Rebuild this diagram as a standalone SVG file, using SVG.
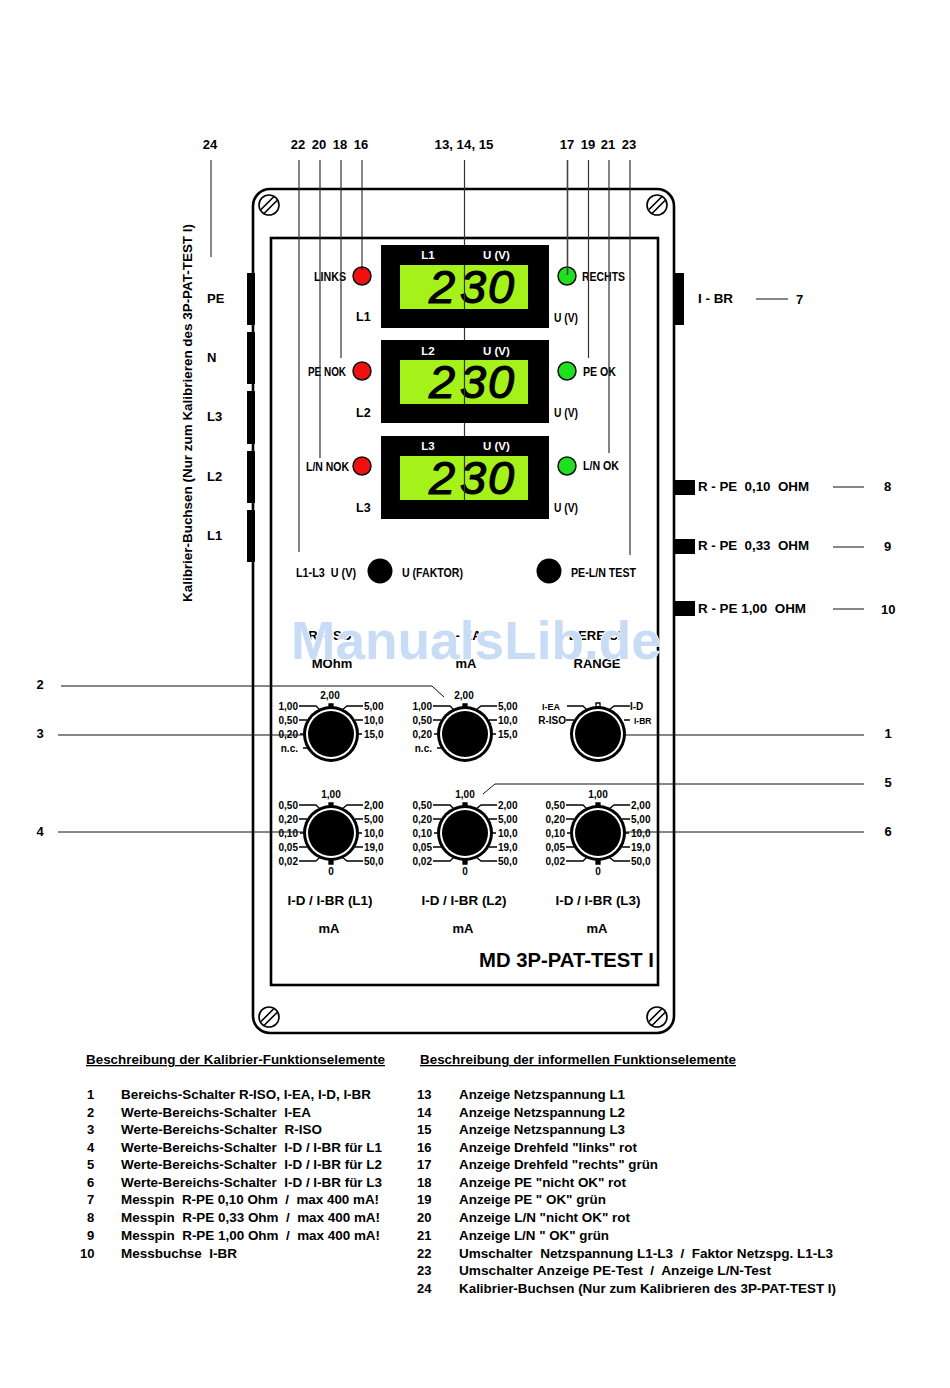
<svg xmlns="http://www.w3.org/2000/svg" width="950" height="1388" viewBox="0 0 950 1388">
<style>
text{font-family:"Liberation Sans",Arial,sans-serif;font-weight:bold;font-size:13px;fill:#000;white-space:pre}
.m{text-anchor:middle}.e{text-anchor:end}
.s{font-size:10px}.w{fill:#fff;font-size:11.5px}
.l{font-size:12.5px}
.u{text-decoration:underline}
.lcd{font-size:47px;font-style:italic;font-weight:normal;stroke:#000;stroke-width:1.2}
.wire{fill:none;stroke:#111;stroke-width:1}
.wg{fill:none;stroke:#333;stroke-width:1.2}
.tick{fill:none;stroke:#000;stroke-width:1.3}
.red{fill:#f01010;stroke:#111;stroke-width:1.5}
.grn{fill:#1fe01f;stroke:#111;stroke-width:1.5}
</style>
<defs>
<g id="screw"><circle r="10" fill="#fff" stroke="#000" stroke-width="1.6"/><path d="M-8,4.5 L4.5,-8 M-4.5,8 L8,-4.5" fill="none" stroke="#000" stroke-width="1.6"/></g>
<g id="knob"><circle r="28" fill="#000"/><circle r="25" fill="#fff"/><circle r="23" fill="#000"/></g>
<g id="upticks" class="tick"><path d="M-2,-27 h4 v4 h-4z" fill="#000" transform="translate(0,-3)"/><path d="M-32,-28 H-15 L-11,-24 M-32,-14 H-24 M-31,0 H-26 M-28,14 H-22 M32,-28 H16 L11,-24 M32,-14 H24 M31,0 H27"/></g>
<g id="lowticks" class="tick"><path d="M-2,-30 h4 v4 h-4z M-2,27 h4 v4 h-4z" fill="#000"/><path d="M-32,-28 H-15 L-11,-24 M-32,-14 H-24 M-31,0 H-26 M-32,14 H-24 M-32,28 H-15 L-11,24 M32,-28 H16 L11,-24 M32,-14 H24 M31,0 H27 M32,14 H24 M32,28 H16 L11,24"/></g>
</defs>
<rect width="950" height="1388" fill="#fff"/>

<g id="housing">
<rect x="253" y="189" width="421" height="844" rx="17" fill="none" stroke="#000" stroke-width="2.6"/>
<rect x="271" y="238" width="387" height="747" fill="none" stroke="#000" stroke-width="2.6"/>
<use href="#screw" x="269" y="205"/><use href="#screw" x="657" y="205"/><use href="#screw" x="269" y="1017"/><use href="#screw" x="657" y="1017"/>
<text x="479" y="967" style="font-size:20px" textLength="175" lengthAdjust="spacingAndGlyphs">MD 3P-PAT-TEST I</text>
</g>

<g id="jacks-left" fill="#000">
<rect x="247" y="273" width="8" height="52"/><rect x="247" y="332" width="8" height="52"/><rect x="247" y="391" width="8" height="53"/><rect x="247" y="451" width="8" height="52"/><rect x="247" y="510" width="8" height="52"/>
<text x="207" y="303">PE</text><text x="207" y="362">N</text><text x="207" y="421">L3</text><text x="207" y="481">L2</text><text x="207" y="540">L1</text>
<text transform="translate(192,602) rotate(-90)" textLength="378" lengthAdjust="spacingAndGlyphs">Kalibrier-Buchsen (Nur zum Kalibrieren des 3P-PAT-TEST I)</text>
</g>
<g id="jack-ibr"><rect x="675" y="273" width="9" height="52"/><text x="698" y="303" textLength="35" lengthAdjust="spacingAndGlyphs">I - BR</text><text x="796" y="304">7</text></g>
<g id="pin-010"><rect x="675" y="480" width="20" height="15"/><text x="698" y="491" textLength="111" lengthAdjust="spacingAndGlyphs">R - PE  0,10  OHM</text><text x="884" y="491">8</text></g>
<g id="pin-033"><rect x="675" y="539" width="20" height="15"/><text x="698" y="550" textLength="111" lengthAdjust="spacingAndGlyphs">R - PE  0,33  OHM</text><text x="884" y="551">9</text></g>
<g id="pin-100"><rect x="675" y="601" width="20" height="15"/><text x="698" y="613" textLength="108" lengthAdjust="spacingAndGlyphs">R - PE 1,00  OHM</text><text x="881" y="614">10</text></g>

<g id="display-l1"><rect x="381" y="245" width="168" height="83"/><rect x="400" y="265" width="128" height="44" fill="#a4f21a"/><text class="w m" x="428" y="259">L1</text><text class="w" x="483" y="259">U (V)</text><text class="lcd" x="429 460 488" y="303">230</text></g>
<g id="display-l2"><rect x="381" y="340" width="168" height="83"/><rect x="400" y="360" width="128" height="44" fill="#a4f21a"/><text class="w m" x="428" y="355">L2</text><text class="w" x="483" y="355">U (V)</text><text class="lcd" x="429 460 488" y="398">230</text></g>
<g id="display-l3"><rect x="381" y="436" width="168" height="83"/><rect x="400" y="456" width="128" height="44" fill="#a4f21a"/><text class="w m" x="428" y="450">L3</text><text class="w" x="483" y="450">U (V)</text><text class="lcd" x="429 460 488" y="494">230</text></g>

<g id="led-links"><circle class="red" cx="362" cy="276" r="9"/><text class="l" x="314" y="281" textLength="32" lengthAdjust="spacingAndGlyphs">LINKS</text><text class="l" x="356" y="321">L1</text></g>
<g id="led-penok"><circle class="red" cx="362" cy="371" r="9"/><text class="l" x="308" y="376" textLength="38" lengthAdjust="spacingAndGlyphs">PE NOK</text><text class="l" x="356" y="417">L2</text></g>
<g id="led-lnnok"><circle class="red" cx="362" cy="466" r="9"/><text class="l" x="306" y="471" textLength="43" lengthAdjust="spacingAndGlyphs">L/N NOK</text><text class="l" x="356" y="512">L3</text></g>
<g id="led-rechts"><circle class="grn" cx="567" cy="276" r="9"/><text class="l" x="582" y="281" textLength="43" lengthAdjust="spacingAndGlyphs">RECHTS</text><text class="l" x="554" y="322" textLength="24" lengthAdjust="spacingAndGlyphs">U (V)</text></g>
<g id="led-peok"><circle class="grn" cx="567" cy="371" r="9"/><text class="l" x="583" y="376" textLength="33" lengthAdjust="spacingAndGlyphs">PE OK</text><text class="l" x="554" y="417" textLength="24" lengthAdjust="spacingAndGlyphs">U (V)</text></g>
<g id="led-lnok"><circle class="grn" cx="567" cy="466" r="9"/><text class="l" x="583" y="470" textLength="36" lengthAdjust="spacingAndGlyphs">L/N OK</text><text class="l" x="554" y="512" textLength="24" lengthAdjust="spacingAndGlyphs">U (V)</text></g>

<g id="btn-faktor"><circle cx="380" cy="571" r="12.5"/><text class="l" x="296" y="577" textLength="60" lengthAdjust="spacingAndGlyphs">L1-L3  U (V)</text><text class="l" x="402" y="577" textLength="61" lengthAdjust="spacingAndGlyphs">U (FAKTOR)</text></g>
<g id="btn-test"><circle cx="549" cy="571" r="12.5"/><text class="l" x="571" y="577" textLength="65" lengthAdjust="spacingAndGlyphs">PE-L/N TEST</text></g>

<g id="titles">
<text class="m" x="330" y="640">R - ISO</text><text class="m" x="465" y="640">I - EA</text><text class="m" x="598" y="640">BEREICH</text>
<text class="m" x="332" y="668">MOhm</text><text class="m" x="466" y="668">mA</text><text class="m" x="597" y="668">RANGE</text>
<text class="m" x="330" y="905" textLength="85" lengthAdjust="spacingAndGlyphs">I-D / I-BR (L1)</text><text class="m" x="464" y="905" textLength="85" lengthAdjust="spacingAndGlyphs">I-D / I-BR (L2)</text><text class="m" x="598" y="905" textLength="85" lengthAdjust="spacingAndGlyphs">I-D / I-BR (L3)</text>
<text class="m" x="329" y="933">mA</text><text class="m" x="463" y="933">mA</text><text class="m" x="597" y="933">mA</text>
</g>

<g id="dial-riso" transform="translate(331,734)"><use href="#upticks"/><use href="#knob"/>
<text class="s m" x="-1" y="-35">2,00</text><text class="s e" x="-33" y="-24">1,00</text><text class="s e" x="-33" y="-10">0,50</text><text class="s e" x="-33" y="4">0,20</text><text class="s e" x="-33" y="18">n.c.</text><text class="s" x="33" y="-24">5,00</text><text class="s" x="33" y="-10">10,0</text><text class="s" x="33" y="4">15,0</text></g>
<g id="dial-iea" transform="translate(465,734)"><use href="#upticks"/><use href="#knob"/>
<text class="s m" x="-1" y="-35">2,00</text><text class="s e" x="-33" y="-24">1,00</text><text class="s e" x="-33" y="-10">0,50</text><text class="s e" x="-33" y="4">0,20</text><text class="s e" x="-33" y="18">n.c.</text><text class="s" x="33" y="-24">5,00</text><text class="s" x="33" y="-10">10,0</text><text class="s" x="33" y="4">15,0</text></g>
<g id="dial-range" transform="translate(598,734)"><path class="tick" d="M-2,-31 h4 v4 h-4z" fill="#000"/><path class="tick" d="M-31,-28 H-15 L-11,-24 M-32,-14 H-24 M32,-28 H16 L11,-24 M32,-14 H26"/><use href="#knob"/>
<text class="s e" x="-38" y="-24" style="font-size:9px">I-EA</text><text class="s e" x="-32" y="-10">R-ISO</text><text class="s" x="32" y="-24">I-D</text><text class="s" x="36" y="-10" style="font-size:8.5px">I-BR</text></g>
<g id="dial-l1" transform="translate(331,833)"><use href="#lowticks"/><use href="#knob"/>
<text class="s m" y="-35">1,00</text><text class="s m" y="42">0</text><text class="s e" x="-33" y="-24">0,50</text><text class="s e" x="-33" y="-10">0,20</text><text class="s e" x="-33" y="4">0,10</text><text class="s e" x="-33" y="18">0,05</text><text class="s e" x="-33" y="32">0,02</text><text class="s" x="33" y="-24">2,00</text><text class="s" x="33" y="-10">5,00</text><text class="s" x="33" y="4">10,0</text><text class="s" x="33" y="18">19,0</text><text class="s" x="33" y="32">50,0</text></g>
<g id="dial-l2" transform="translate(465,833)"><use href="#lowticks"/><use href="#knob"/>
<text class="s m" y="-35">1,00</text><text class="s m" y="42">0</text><text class="s e" x="-33" y="-24">0,50</text><text class="s e" x="-33" y="-10">0,20</text><text class="s e" x="-33" y="4">0,10</text><text class="s e" x="-33" y="18">0,05</text><text class="s e" x="-33" y="32">0,02</text><text class="s" x="33" y="-24">2,00</text><text class="s" x="33" y="-10">5,00</text><text class="s" x="33" y="4">10,0</text><text class="s" x="33" y="18">19,0</text><text class="s" x="33" y="32">50,0</text></g>
<g id="dial-l3" transform="translate(598,833)"><use href="#lowticks"/><use href="#knob"/>
<text class="s m" y="-35">1,00</text><text class="s m" y="42">0</text><text class="s e" x="-33" y="-24">0,50</text><text class="s e" x="-33" y="-10">0,20</text><text class="s e" x="-33" y="4">0,10</text><text class="s e" x="-33" y="18">0,05</text><text class="s e" x="-33" y="32">0,02</text><text class="s" x="33" y="-24">2,00</text><text class="s" x="33" y="-10">5,00</text><text class="s" x="33" y="4">10,0</text><text class="s" x="33" y="18">19,0</text><text class="s" x="33" y="32">50,0</text></g>

<g id="connectors">
<path class="wire" d="M211,160 V257 M362,160 V270 M756,299 H788 M833,487 H864 M833,547 H864 M833,609 H864"/>
<path class="wg" d="M299,160 V552 M320,160 V458 M341,160 V358 M464.5,160 V245 M464.5,265 V309 M464.5,328 V340 M464.5,360 V404 M464.5,423 V436 M464.5,456 V500 M588.5,160 V358 M609,160 V453 M630,160 V555"/>
<path d="M567.5,160 V275" fill="none" stroke="#444" stroke-width="1.6"/>
<path class="wire" d="M61,686 H432 L444,697 M58,735 H305 M58,832 H305 M483,794 L495,784 H864 M625,735 H864 M625,832 H864"/>
</g>

<g id="callouts">
<text class="m" x="210" y="149">24</text><text class="m" x="298" y="149">22</text><text class="m" x="319" y="149">20</text><text class="m" x="340" y="149">18</text><text class="m" x="361" y="149">16</text><text class="m" x="464" y="149" textLength="59" lengthAdjust="spacingAndGlyphs">13, 14, 15</text><text class="m" x="567" y="149">17</text><text class="m" x="588" y="149">19</text><text class="m" x="608" y="149">21</text><text class="m" x="629" y="149">23</text>
<text class="m" x="40" y="689">2</text><text class="m" x="40" y="738">3</text><text class="m" x="40" y="836">4</text><text class="m" x="888" y="738">1</text><text class="m" x="888" y="787">5</text><text class="m" x="888" y="836">6</text>
</g>

<text id="watermark" x="291" y="659" textLength="370" lengthAdjust="spacingAndGlyphs" style="font-size:54px;fill:#c8dcf6;stroke:#fff;stroke-width:1.5;paint-order:stroke">ManualsLib.de</text>

<g id="legend-left">
<text class="u" x="86" y="1064" textLength="299" lengthAdjust="spacingAndGlyphs">Beschreibung der Kalibrier-Funktionselemente</text>
<text x="87" y="1099">1</text><text x="121" y="1099" textLength="250" lengthAdjust="spacingAndGlyphs">Bereichs-Schalter R-ISO, I-EA, I-D, I-BR</text>
<text x="87" y="1117">2</text><text x="121" y="1117" textLength="190" lengthAdjust="spacingAndGlyphs">Werte-Bereichs-Schalter  I-EA</text>
<text x="87" y="1134">3</text><text x="121" y="1134" textLength="201" lengthAdjust="spacingAndGlyphs">Werte-Bereichs-Schalter  R-ISO</text>
<text x="87" y="1152">4</text><text x="121" y="1152" textLength="261" lengthAdjust="spacingAndGlyphs">Werte-Bereichs-Schalter  I-D / I-BR für L1</text>
<text x="87" y="1169">5</text><text x="121" y="1169" textLength="261" lengthAdjust="spacingAndGlyphs">Werte-Bereichs-Schalter  I-D / I-BR für L2</text>
<text x="87" y="1187">6</text><text x="121" y="1187" textLength="261" lengthAdjust="spacingAndGlyphs">Werte-Bereichs-Schalter  I-D / I-BR für L3</text>
<text x="87" y="1204">7</text><text x="121" y="1204" textLength="258" lengthAdjust="spacingAndGlyphs">Messpin  R-PE 0,10 Ohm  /  max 400 mA!</text>
<text x="87" y="1222">8</text><text x="121" y="1222" textLength="259" lengthAdjust="spacingAndGlyphs">Messpin  R-PE 0,33 Ohm  /  max 400 mA!</text>
<text x="87" y="1240">9</text><text x="121" y="1240" textLength="259" lengthAdjust="spacingAndGlyphs">Messpin  R-PE 1,00 Ohm  /  max 400 mA!</text>
<text x="80" y="1258">10</text><text x="121" y="1258" textLength="116" lengthAdjust="spacingAndGlyphs">Messbuchse  I-BR</text>
</g>
<g id="legend-right">
<text class="u" x="420" y="1064" textLength="316" lengthAdjust="spacingAndGlyphs">Beschreibung der informellen Funktionselemente</text>
<text x="417" y="1099">13</text><text x="459" y="1099" textLength="166" lengthAdjust="spacingAndGlyphs">Anzeige Netzspannung L1</text>
<text x="417" y="1117">14</text><text x="459" y="1117" textLength="166" lengthAdjust="spacingAndGlyphs">Anzeige Netzspannung L2</text>
<text x="417" y="1134">15</text><text x="459" y="1134" textLength="166" lengthAdjust="spacingAndGlyphs">Anzeige Netzspannung L3</text>
<text x="417" y="1152">16</text><text x="459" y="1152" textLength="178" lengthAdjust="spacingAndGlyphs">Anzeige Drehfeld "links" rot</text>
<text x="417" y="1169">17</text><text x="459" y="1169" textLength="199" lengthAdjust="spacingAndGlyphs">Anzeige Drehfeld "rechts" grün</text>
<text x="417" y="1187">18</text><text x="459" y="1187" textLength="167" lengthAdjust="spacingAndGlyphs">Anzeige PE "nicht OK" rot</text>
<text x="417" y="1204">19</text><text x="459" y="1204" textLength="147" lengthAdjust="spacingAndGlyphs">Anzeige PE " OK" grün</text>
<text x="417" y="1222">20</text><text x="459" y="1222" textLength="171" lengthAdjust="spacingAndGlyphs">Anzeige L/N "nicht OK" rot</text>
<text x="417" y="1240">21</text><text x="459" y="1240" textLength="150" lengthAdjust="spacingAndGlyphs">Anzeige L/N " OK" grün</text>
<text x="417" y="1258">22</text><text x="459" y="1258" textLength="374" lengthAdjust="spacingAndGlyphs">Umschalter  Netzspannung L1-L3  /  Faktor Netzspg. L1-L3</text>
<text x="417" y="1275">23</text><text x="459" y="1275" textLength="312" lengthAdjust="spacingAndGlyphs">Umschalter Anzeige PE-Test  /  Anzeige L/N-Test</text>
<text x="417" y="1293">24</text><text x="459" y="1293" textLength="377" lengthAdjust="spacingAndGlyphs">Kalibrier-Buchsen (Nur zum Kalibrieren des 3P-PAT-TEST I)</text>
</g>
</svg>
